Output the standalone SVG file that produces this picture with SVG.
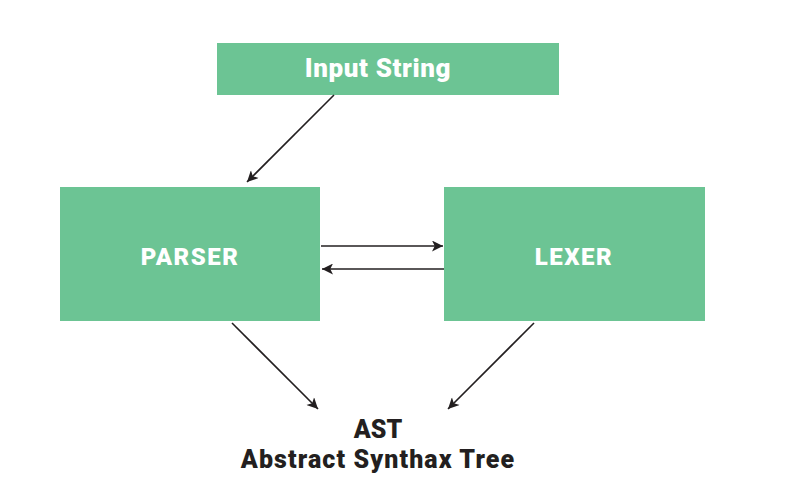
<svg xmlns="http://www.w3.org/2000/svg" width="785" height="493" viewBox="0 0 785 493">
<defs>
<style>
.box{fill:#6cc494;}
.lbl{font-family:Roboto,"Liberation Sans",sans-serif;font-weight:900;fill:#ffffff;text-anchor:middle;}
.dark{font-family:Roboto,"Liberation Sans",sans-serif;font-weight:900;fill:#231f20;text-anchor:middle;}
.conn{stroke:#231f20;stroke-width:1.6;fill:none;marker-end:url(#ah);}
</style>
<marker id="ah" viewBox="0 0 10 10" refX="10" refY="5" markerWidth="13" markerHeight="11" markerUnits="userSpaceOnUse" orient="auto">
<path d="M0,0 L10,5 L0,10 L2.5,5 Z" fill="#231f20"/>
</marker>
</defs>
<rect width="785" height="493" fill="#ffffff"/>
<g id="input-string">
<rect class="box" x="217" y="43" width="342" height="52"/>
<text class="lbl" x="378" y="77" font-size="26" letter-spacing="0.6">Input String</text>
</g>
<g id="parser">
<rect class="box" x="60" y="187" width="260" height="134"/>
<text class="lbl" x="190" y="265" font-size="24" letter-spacing="1.5">PARSER</text>
</g>
<g id="lexer">
<rect class="box" x="444" y="187" width="261" height="134"/>
<text class="lbl" x="574" y="265" font-size="24" letter-spacing="1.5">LEXER</text>
</g>
<g id="ast">
<text class="dark" x="378" y="438" font-size="25">AST</text>
<text class="dark" x="378" y="468" font-size="25" letter-spacing="1.1">Abstract Synthax Tree</text>
</g>
<g id="connectors">
<line class="conn" x1="334" y1="95" x2="247" y2="182"/>
<line class="conn" x1="321" y1="246" x2="443" y2="246"/>
<line class="conn" x1="444" y1="269" x2="322" y2="269"/>
<line class="conn" x1="232" y1="323" x2="318" y2="409"/>
<line class="conn" x1="534" y1="323" x2="448" y2="409"/>
</g>
</svg>
